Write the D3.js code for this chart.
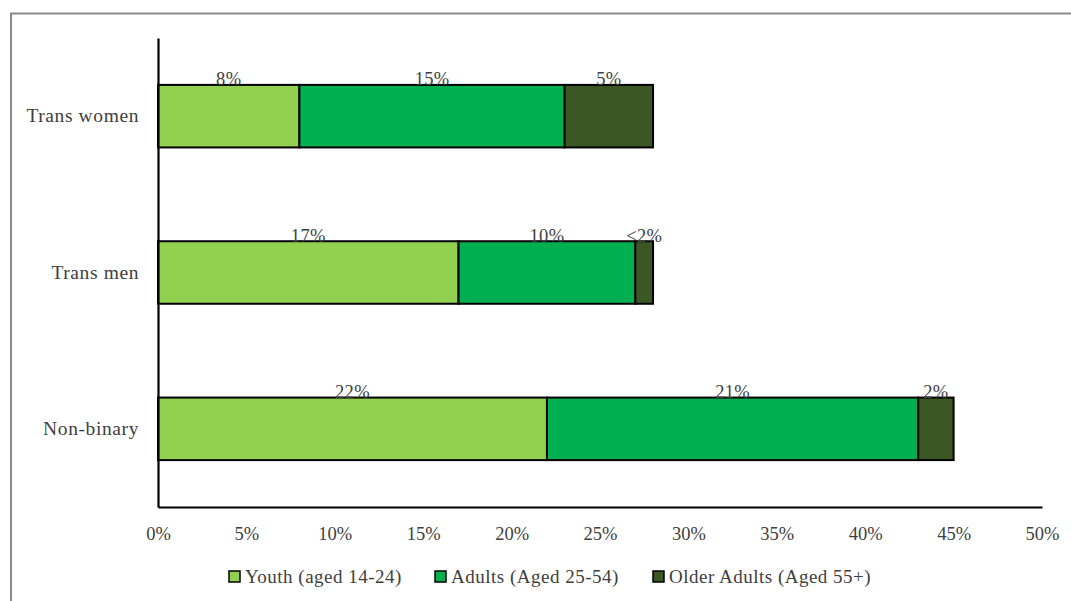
<!DOCTYPE html>
<html>
<head>
<meta charset="utf-8">
<script src="https://cdn.jsdelivr.net/npm/d3@7"></script>
<style>
  html, body { margin: 0; padding: 0; background: #fff; }
  svg { display: block; }
  text { font-family: "Liberation Serif", "Times New Roman", serif; fill: #404040; }
</style>
</head>
<body>
<svg id="chart" width="1071" height="601"></svg>
<script>
// Gender identity groups (top to bottom)
const categories = ["Trans women", "Trans men", "Non-binary"];
// Age groups stacked left to right
const seriesNames = ["Youth (aged 14-24)", "Adults (Aged 25-54)", "Older Adults (Aged 55+)"];
const seriesColors = ["#92D050", "#00B050", "#3A5724"];
// Share (%) per category for each age group
const youth = [8, 17, 22];
const adults = [15, 10, 21];
const older = [5, 1, 2];
// Text shown above each segment
const youthLabels = ["8%", "17%", "22%"];
const adultLabels = ["15%", "10%", "21%"];
const olderLabels = ["5%", "<2%", "2%"];
const xTicks = [0, 5, 10, 15, 20, 25, 30, 35, 40, 45, 50];

const series = [youth, adults, older];
const seriesLabels = [youthLabels, adultLabels, olderLabels];

const svg = d3.select("#chart");

// outer frame
svg.append("rect")
  .attr("x", 11).attr("y", 13.5)
  .attr("width", 1080).attr("height", 620)
  .attr("fill", "none").attr("stroke", "#8a8a8a").attr("stroke-width", 2);

const plotLeft = 158, plotRight = 1042, plotTop = 38, plotBottom = 507;

const x = d3.scaleLinear().domain([0, 50]).range([plotLeft, plotRight]);
const y = d3.scaleBand().domain(categories).range([plotTop, plotBottom]).paddingInner(0.6).paddingOuter(0.3);

// stacked rows
const rows = categories.map((c, i) => {
  const row = { category: c };
  seriesNames.forEach((s, j) => row[s] = series[j][i]);
  return row;
});
const stacked = d3.stack().keys(seriesNames)(rows);

const g = svg.append("g");
stacked.forEach((layer, j) => {
  g.selectAll(null).data(layer).enter().append("rect")
    .attr("x", d => x(d[0]))
    .attr("y", d => y(d.data.category))
    .attr("width", d => x(d[1]) - x(d[0]))
    .attr("height", y.bandwidth())
    .attr("fill", seriesColors[j])
    .attr("stroke", "#000")
    .attr("stroke-width", 2);
});

// segment value labels
stacked.forEach((layer, j) => {
  g.selectAll(null).data(layer).enter().append("text")
    .attr("x", d => x((d[0] + d[1]) / 2))
    .attr("y", d => y(d.data.category) + 0.5)
    .attr("text-anchor", "middle")
    .attr("font-size", 18.5)
    .attr("letter-spacing", 0.3)
    .text((d, i) => seriesLabels[j][i]);
});

// axes
const xAxis = d3.axisBottom(x).tickValues(xTicks).tickFormat(d => d + "%").tickSize(0).tickPadding(0);
const xg = svg.append("g").attr("transform", `translate(0,${plotBottom})`).call(xAxis);
xg.select(".domain").attr("stroke", "#000").attr("stroke-width", 2.2);
xg.selectAll(".tick text")
  .attr("dy", null).attr("y", 33)
  .attr("font-size", 18.5)
  .attr("font-family", "Liberation Serif, serif")
  .attr("fill", "#404040");

const yAxis = d3.axisLeft(y).tickSize(0).tickPadding(19);
const yg = svg.append("g").attr("transform", `translate(${plotLeft},0)`).call(yAxis);
yg.select(".domain").attr("stroke", "#000").attr("stroke-width", 2.2);
yg.selectAll(".tick text")
  .attr("font-size", 19.5)
  .attr("letter-spacing", 0.6)
  .attr("font-family", "Liberation Serif, serif")
  .attr("fill", "#404040");

// legend
const legendX = [229, 435, 653];
const legend = svg.append("g");
seriesNames.forEach((s, j) => {
  legend.append("rect")
    .attr("x", legendX[j]).attr("y", 571)
    .attr("width", 11).attr("height", 11)
    .attr("fill", seriesColors[j]).attr("stroke", "#000").attr("stroke-width", 1.5);
  legend.append("text")
    .attr("x", legendX[j] + 16).attr("y", 583)
    .attr("font-size", 19)
    .attr("letter-spacing", 0.5)
    .text(s);
});
</script>
</body>
</html>
